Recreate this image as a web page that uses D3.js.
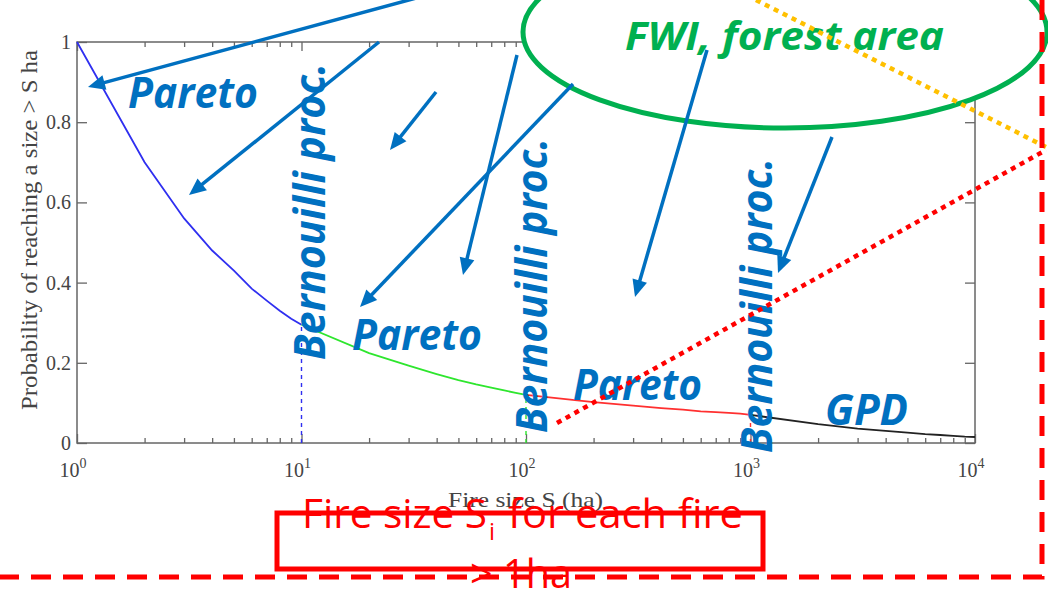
<!DOCTYPE html>
<html>
<head>
<meta charset="utf-8">
<script src="https://cdn.jsdelivr.net/npm/d3@7"></script>
<style>
  body { margin: 0; background: #fff; }
  svg { display: block; }
</style>
</head>
<body>
<svg id="chart" width="1048" height="592"></svg>
<script>
// exceedance curve, one piece per fitted law
const blueSize  = [1, 2, 3, 4, 5, 6, 7, 8, 9, 10]
const blueProb  = [1, 0.70, 0.56, 0.48, 0.43, 0.385, 0.355, 0.33, 0.31, 0.295]
const greenSize = [10, 20, 30, 40, 50, 60, 70, 80, 90, 100]
const greenProb = [0.295, 0.224, 0.193, 0.172, 0.157, 0.146, 0.138, 0.131, 0.125, 0.12]
const redSize   = [100, 200, 300, 400, 500, 600, 700, 800, 900, 1000]
const redProb   = [0.12, 0.102, 0.093, 0.087, 0.083, 0.079, 0.077, 0.075, 0.073, 0.07]
const blackSize = [1000, 2000, 3000, 4000, 5000, 6000, 7000, 8000, 9000, 10000]
const blackProb = [0.07, 0.047, 0.036, 0.030, 0.026, 0.022, 0.020, 0.018, 0.016, 0.015]

const xMajor = [1, 10, 100, 1000, 10000]
const xExp = ['0', '1', '2', '3', '4']
const yTicks = [0, 0.2, 0.4, 0.6, 0.8, 1]
const yLabels = ['0', '0.2', '0.4', '0.6', '0.8', '1']

const BLUE = '#0070C0'
const SERIF = '"Liberation Serif", "Times New Roman", serif'
const SANS = '"Open Sans", "Noto Sans", "DejaVu Sans", sans-serif'

const svg = d3.select('#chart')
const x = d3.scaleLog().domain([1, 1e4]).range([77, 975])
const y = d3.scaleLinear().domain([0, 1]).range([443, 42])

const xMinor = []
xMajor.slice(0, -1).forEach(d => { for (let k = 2; k <= 9; k++) xMinor.push(d * k) })

const plot = svg.append('g')

// frame + ticks
const axisStyle = g => {
    g.select('.domain').remove()
    g.selectAll('line').attr('stroke', '#666').attr('stroke-width', 1.3)
    g.selectAll('text').remove()
}
plot.append('g').attr('transform', 'translate(0,443)')
    .call(d3.axisBottom(x).tickValues(xMajor).tickSize(-9)).call(axisStyle)
plot.append('g').attr('transform', 'translate(0,443)')
    .call(d3.axisBottom(x).tickValues(xMinor).tickSize(-5)).call(axisStyle)
plot.append('g').attr('transform', 'translate(0,42)')
    .call(d3.axisTop(x).tickValues(xMajor).tickSize(-9)).call(axisStyle)
plot.append('g').attr('transform', 'translate(0,42)')
    .call(d3.axisTop(x).tickValues(xMinor).tickSize(-5)).call(axisStyle)
plot.append('g').attr('transform', 'translate(77,0)')
    .call(d3.axisLeft(y).tickValues(yTicks).tickSize(-10)).call(axisStyle)
plot.append('g').attr('transform', 'translate(975,0)')
    .call(d3.axisRight(y).tickValues(yTicks).tickSize(-10)).call(axisStyle)

plot.append('rect')
    .attr('x', x(1)).attr('y', y(1))
    .attr('width', x(1e4) - x(1)).attr('height', y(0) - y(1))
    .attr('fill', 'none').attr('stroke', '#666').attr('stroke-width', 1.5)

// tick labels
plot.selectAll('.ylab').data(yTicks).enter().append('text')
    .attr('x', 71).attr('y', d => y(d) + 7)
    .attr('text-anchor', 'end')
    .attr('font-family', SERIF).attr('font-size', 20).attr('fill', '#444')
    .text((d, i) => yLabels[i])

const xl = plot.selectAll('.xlab').data(xMajor).enter().append('text')
    .attr('x', d => x(d) - 4).attr('y', 477)
    .attr('text-anchor', 'middle')
    .attr('font-family', SERIF).attr('font-size', 20).attr('fill', '#444')
xl.append('tspan').text('10')
xl.append('tspan').attr('dy', -9).attr('font-size', 14).text((d, i) => xExp[i])

plot.append('text')
    .attr('x', 448).attr('y', 507)
    .attr('font-family', SERIF).attr('font-size', 22).attr('fill', '#444')
    .attr('textLength', 155).attr('lengthAdjust', 'spacingAndGlyphs')
    .text('Fire size S (ha)')

plot.append('text')
    .attr('transform', 'translate(37,410) rotate(-90)')
    .attr('font-family', SERIF).attr('font-size', 23).attr('fill', '#444')
    .attr('textLength', 360).attr('lengthAdjust', 'spacingAndGlyphs')
    .text('Probability of reaching a size > S ha')

// curve pieces
const line = d3.line().x(d => x(d[0])).y(d => y(d[1]))
const pieces = [
    {s: blueSize, p: blueProb, c: '#2f2ff0'},
    {s: greenSize, p: greenProb, c: '#2ee62e'},
    {s: redSize, p: redProb, c: '#ff3030'},
    {s: blackSize, p: blackProb, c: '#222'}
]
pieces.forEach((d, i) => {
    const last = d.s.length - 1
    if (i < 3) {
        plot.append('line')
            .attr('x1', x(d.s[last])).attr('x2', x(d.s[last]))
            .attr('y1', y(0)).attr('y2', y(d.p[last]))
            .attr('stroke', d.c).attr('stroke-width', 1.4).attr('stroke-dasharray', '4,4')
    }
    plot.append('path')
        .datum(d.s.map((s, k) => [s, d.p[k]]))
        .attr('d', line)
        .attr('fill', 'none').attr('stroke', d.c).attr('stroke-width', 1.8)
})

// overlay drawn on top of the figure
const ov = svg.append('g')

ov.append('ellipse')
    .attr('cx', 785).attr('cy', 32).attr('rx', 262).attr('ry', 96)
    .attr('fill', '#fff').attr('stroke', '#00B050').attr('stroke-width', 5)

const labels = [
    {t: 'Pareto', x: 128, y: 108, len: 130, r: 0},
    {t: 'Pareto', x: 352, y: 350, len: 130, r: 0},
    {t: 'Pareto', x: 573, y: 400, len: 129, r: 0},
    {t: 'GPD', x: 825, y: 425, len: 83, r: 0},
    {t: 'Bernouilli proc.', x: 325, y: 360, len: 297, r: -90},
    {t: 'Bernouilli proc.', x: 547, y: 433, len: 295, r: -90},
    {t: 'Bernouilli proc.', x: 772, y: 453, len: 295, r: -90}
]
labels.forEach(d => {
    ov.append('text')
        .attr('transform', `translate(${d.x},${d.y}) rotate(${d.r})`)
        .attr('font-family', SANS).attr('font-size', 43)
        .attr('font-weight', 'bold').attr('font-style', 'italic')
        .attr('fill', BLUE)
        .attr('textLength', d.len).attr('lengthAdjust', 'spacingAndGlyphs')
        .text(d.t)
})

ov.append('text')
    .attr('x', 625).attr('y', 50)
    .attr('font-family', SANS).attr('font-size', 40)
    .attr('font-weight', 'bold').attr('font-style', 'italic')
    .attr('fill', '#00B050')
    .attr('textLength', 319).attr('lengthAdjust', 'spacingAndGlyphs')
    .text('FWI, forest area')

const arrows = [
    [420, -3, 88, 87],
    [379, 42, 189, 195],
    [436, 92, 390, 150],
    [517, 55, 463, 275],
    [573, 84, 360, 307],
    [707, 50, 635, 297],
    [832, 137, 778, 273]
]
arrows.forEach(([x1, y1, x2, y2]) => {
    const len = Math.hypot(x2 - x1, y2 - y1)
    const ux = (x2 - x1) / len, uy = (y2 - y1) / len
    const bx = x2 - ux * 17, by = y2 - uy * 17
    ov.append('line')
        .attr('x1', x1).attr('y1', y1)
        .attr('x2', x2 - ux * 10).attr('y2', y2 - uy * 10)
        .attr('stroke', BLUE).attr('stroke-width', 3.5)
    ov.append('path')
        .attr('d', `M${x2},${y2}L${bx - uy * 7.5},${by + ux * 7.5}L${bx + uy * 7.5},${by - ux * 7.5}Z`)
        .attr('fill', BLUE)
})

// dotted links
ov.append('line')
    .attr('x1', 756).attr('y1', 0).attr('x2', 1046).attr('y2', 147)
    .attr('stroke', '#FFC000').attr('stroke-width', 4.5).attr('stroke-dasharray', '5,5')
ov.append('line')
    .attr('x1', 557).attr('y1', 423).attr('x2', 1046).attr('y2', 150)
    .attr('stroke', '#FF0000').attr('stroke-width', 4.5).attr('stroke-dasharray', '5,5')

// dashed frame
ov.append('path')
    .attr('d', 'M1042,0V577H0')
    .attr('fill', 'none').attr('stroke', '#FF0000').attr('stroke-width', 5)
    .attr('stroke-dasharray', '20,12')

// red box + caption
ov.append('rect')
    .attr('x', 277).attr('y', 513).attr('width', 486).attr('height', 56)
    .attr('fill', 'none').attr('stroke', '#FF0000').attr('stroke-width', 5)

const cap = [
    {t: 'Fire size S', x: 302, y: 528, len: 185, fs: 40},
    {t: 'i', x: 489, y: 540, len: 6, fs: 24},
    {t: 'for each fire', x: 508, y: 528, len: 235, fs: 40},
    {t: '> 1ha', x: 470, y: 588, len: 102, fs: 40}
]
cap.forEach(d => {
    ov.append('text')
        .attr('x', d.x).attr('y', d.y)
        .attr('font-family', SANS).attr('font-size', d.fs)
        .attr('fill', '#FF0000')
        .attr('textLength', d.len).attr('lengthAdjust', 'spacingAndGlyphs')
        .text(d.t)
})
</script>
</body>
</html>
